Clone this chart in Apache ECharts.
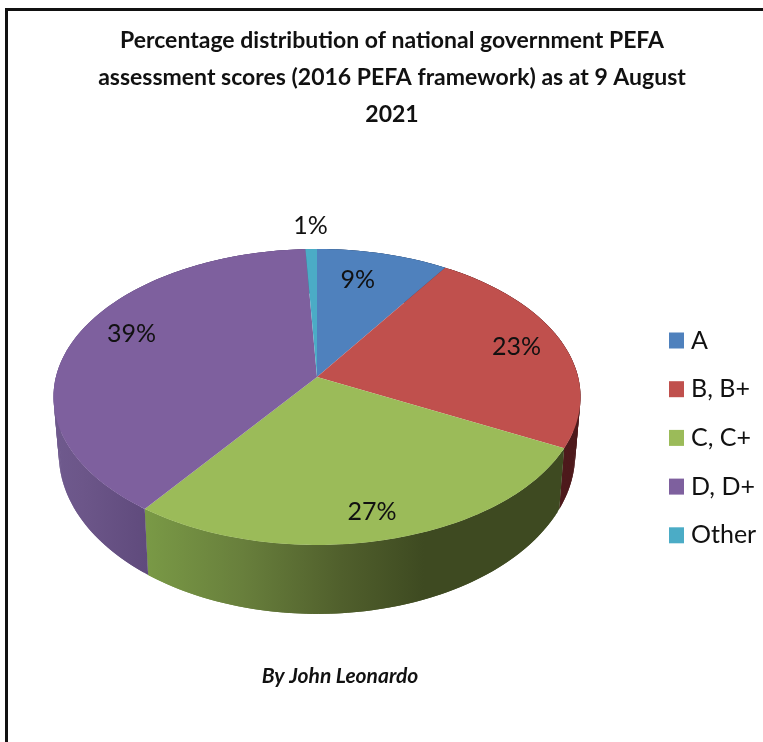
<!DOCTYPE html>
<html>
<head>
<meta charset="utf-8">
<style>html,body{margin:0;padding:0;background:#fff}#c{width:763px;height:742px}</style>
<script src="https://cdn.jsdelivr.net/npm/echarts@6/dist/echarts.min.js"></script>
</head>
<body>
<div id="c"></div>
<script>
const categories = ['A', 'B, B+', 'C, C+', 'D, D+', 'Other'];
const shares = [9.2, 23.4, 27.4, 39.2, 0.8];
const titleLines = [
  'Percentage distribution of national government PEFA',
  'assessment scores (2016 PEFA framework) as at 9 August',
  '2021'
];
const credit = 'By John Leonardo';

const topColors = ['#4f81bd', '#c0504d', '#9bbb59', '#7e609e', '#4bacc6'];
const FONT = 'Lato';

// projection of the tilted disc
const CX = 317, CY = 377, A = 261.1, B = 145.3, W = -0.135;
const SX = 0.98, SY = 1.083, DY = 55;
function topPt(t, r) {
  const u = r * Math.sin(t), v = -r * Math.cos(t), d = 1 + W * v;
  return [CX + A * u / d, CY + B * v / d];
}
function lowPt(t) {
  const p = topPt(t, 1);
  return [CX + SX * (p[0] - CX), CY + DY + SY * (p[1] - CY)];
}
function grad(stops) {
  return new echarts.graphic.LinearGradient(50, 0, 600, 0, stops, true);
}
const wallFill = [
  '#2f4a70',
  '#4e1a1c',
  () => grad([{offset:0,color:'#86a64c'},{offset:0.17,color:'#7a9a46'},{offset:0.35,color:'#687f3c'},{offset:0.53,color:'#505f2c'},{offset:0.68,color:'#3e4a21'},{offset:1,color:'#3e4a21'}]),
  () => grad([{offset:0,color:'#6f5a8e'},{offset:0.06,color:'#6c5689'},{offset:0.18,color:'#5f4a7c'},{offset:1,color:'#5f4a7c'}]),
  '#2a6f82'
];
const labelRadius = [0.75, 0.75, 0.75, 0.75, 1.15];
const labelNudge = [[-10,-2],[15,-3],[5,17],[-3,-13],[0,-6]];

function makeRender(idx) {
  return function (params, api) {
    const val = api.value(0);
    const total = shares.reduce((a, b) => a + b, 0);
    let before = 0;
    for (let i = 0; i < idx; i++) before += shares[i];
    const t0 = before / total * 2 * Math.PI;
    const t1 = (before + val) / total * 2 * Math.PI;
    const n = Math.max(2, Math.ceil((t1 - t0) / 0.02));
    const rim = [], low = [];
    for (let i = 0; i <= n; i++) {
      const t = t0 + (t1 - t0) * i / n;
      rim.push(topPt(t, 1));
      low.push(lowPt(t));
    }
    const fill = typeof wallFill[idx] === 'function' ? wallFill[idx]() : wallFill[idx];
    const anchor = topPt((t0 + t1) / 2, labelRadius[idx]);
    const children = [];
    // side wall swept along the rim, in overlapping pieces
    for (let i = 0; i < n; i++) {
      const j = Math.min(n, i + 2);
      children.push({
        type: 'polygon', z2: 1, silent: true,
        shape: { points: [rim[i], rim[j], low[j], low[i]] },
        style: { fill: fill }
      });
    }
    children.push({
      type: 'polygon', z2: 10, silent: true,
      shape: { points: [[CX, CY]].concat(rim) },
      style: { fill: topColors[idx] }
    });
    children.push({
      type: 'text', z2: 20, silent: true,
      x: anchor[0] + labelNudge[idx][0],
      y: anchor[1] + labelNudge[idx][1],
      style: { text: Math.round(val) + '%', fontFamily: FONT, fontSize: 25,
               fill: '#111', align: 'center', verticalAlign: 'middle' }
    });
    return { type: 'group', children: children };
  };
}

const chart = echarts.init(document.getElementById('c'), null, { renderer: 'canvas' });
chart.setOption({
  animation: false,
  backgroundColor: '#fff',
  title: [
    { text: titleLines.join('\n'), left: 387, textAlign: 'center', top: 17,
      textStyle: { fontFamily: FONT, fontSize: 23, fontWeight: 'bold', color: '#111', lineHeight: 37 } },
    { text: credit, left: 335, textAlign: 'center', top: 661,
      textStyle: { fontFamily: FONT, fontSize: 21, fontWeight: 'bold', fontStyle: 'italic', color: '#111' } }
  ],
  legend: {
    orient: 'vertical', left: 669, top: 328, icon: 'rect',
    itemWidth: 15, itemHeight: 16, itemGap: 23.7, padding: 0,
    selectedMode: false,
    textStyle: { fontFamily: FONT, fontSize: 25, color: '#111', padding: [0,0,0,2] },
    data: categories
  },
  graphic: [{
    type: 'rect', silent: true, z: -1,
    shape: { x: 6.5, y: 9.5, width: 800, height: 800 },
    style: { fill: 'none', stroke: '#111', lineWidth: 3 }
  }],
  series: categories.map((name, i) => ({
    type: 'custom', name: name, coordinateSystem: 'none',
    itemStyle: { color: topColors[i] },
    renderItem: makeRender(i),
    data: [[shares[i]]]
  }))
});
</script>
</body>
</html>
